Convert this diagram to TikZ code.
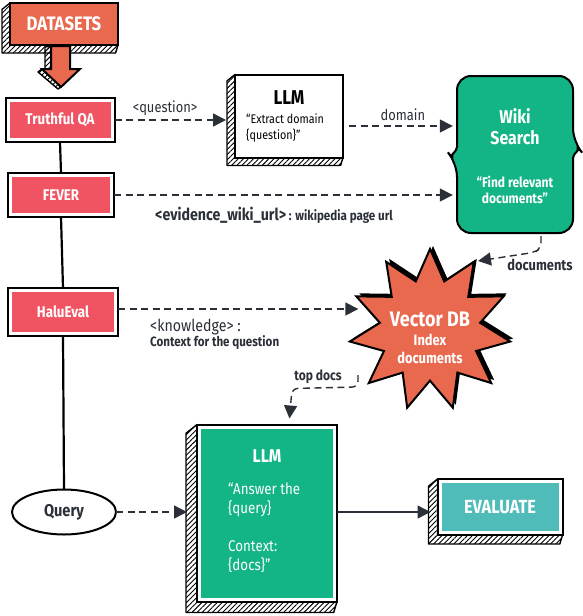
\documentclass[tikz,border=0pt]{standalone}
\usepackage{fontspec}
\setmainfont{Fira Sans}[FakeStretch=0.86]
\usetikzlibrary{arrows.meta,shapes.geometric,patterns.meta,shadows,calc,backgrounds}
\definecolor{dsorange}{HTML}{E9694F}
\definecolor{dsred}{HTML}{F05462}
\definecolor{llmgreen}{HTML}{13B485}
\definecolor{evalteal}{HTML}{50BCB9}
\definecolor{inkdark}{HTML}{2A2F38}

\begin{document}
\begin{tikzpicture}[x=1pt,y=-1pt,
    box/.style={draw=black, line width=2pt, fill=white, inner sep=0pt, outer sep=0pt},
    hatch/.style={draw=black, line width=1.4pt, line join=round, pattern={Lines[angle=45, distance=3.6pt, line width=0.9pt]}},
    inset/.style={path picture={\fill[#1] ($(path picture bounding box.south west)+(4pt,4pt)$) rectangle ($(path picture bounding box.north east)+(-4pt,-4pt)$);}},
    dataset/.style={box, inset=dsred, minimum height=44, text=white, font=\bfseries\fontsize{15.5}{18}\selectfont},
    link/.style={draw=inkdark, line width=1.4pt, dash pattern=on 7pt off 4.5pt, -{Triangle[length=13pt,width=13pt,fill=inkdark]}},
    solidlink/.style={link, solid},
    spine/.style={draw=black, line width=2.2pt},
    lbl/.style={text=inkdark, inner sep=1pt, font=\fontsize{15}{17}\selectfont},
    boldlbl/.style={lbl, font=\bfseries\fontsize{15}{17}\selectfont},
    whitetxt/.style={text=white, inner sep=0pt, align=center},
  ]
  \useasboundingbox (0,0) rectangle (582,616);

  % datasets header with arrow
  \node[box, fill=dsorange, minimum width=108, minimum height=42,
        text=white, font=\bfseries\fontsize{19.5}{22}\selectfont] (datasets) at (64,24) {DATASETS};
  \draw[box, fill=dsorange] (51,46) -- (70,46) -- (70,69) -- (80,69) -- (61,87) -- (42,69) -- (51,69) -- cycle;

  % dataset boxes
  \node[dataset, minimum width=109] (tqa) at (60,120) {Truthful QA};
  \node[dataset, minimum width=106] (fever) at (61,195) {FEVER};
  \node[dataset, minimum width=110, minimum height=48] (halu) at (63,312) {HaluEval};
  \node[box, ellipse, minimum width=104, minimum height=45,
        font=\bfseries\fontsize{17}{19}\selectfont, text=inkdark] (query) at (64,512) {Query};
  \draw[spine] (tqa.south) -- (fever.north);
  \draw[spine] (fever.south) -- (halu.north);
  \draw[spine] (halu.south) -- (query.north);

  % first llm
  \node[box, minimum width=108, minimum height=83] (llm1) at (289,116) {};
  \node[text=black, inner sep=0pt, font=\bfseries\fontsize{20}{22}\selectfont] (llm1title) at (289,98) {LLM};
  \node[anchor=north west, align=left, inner sep=0pt, text=black, font=\fontsize{12.5}{16}\selectfont] (llm1text) at (246,114)
        {“Extract domain\\\{question\}”};

  % wiki search
  \node[minimum width=116, minimum height=157] (wiki) at (515,154.5) {};
  \draw[box, fill=llmgreen, rounded corners=14pt] (515,76) -- (573,76) -- (573,142)
        [rounded corners=2pt] -- (579,149) -- (573,156)
        [rounded corners=14pt] -- (573,233) -- (457,233) -- (457,163)
        [rounded corners=2pt] -- (451,156) -- (457,149)
        [rounded corners=14pt] -- (457,76) -- cycle;
  \node[whitetxt, font=\bfseries\fontsize{18.5}{21}\selectfont] (wikititle) at (515,127) {Wiki\\Search};
  \node[whitetxt, font=\bfseries\fontsize{14}{16}\selectfont] (wikitext) at (515,190) {“Find relevant\\documents”};

  % vector db
  \node[star, star points=11, star point ratio=1.6, minimum size=162, inner sep=0pt,
        box, fill=dsorange, line width=2pt,
        general shadow={shadow xshift=3pt, shadow yshift=3pt, fill=black}] (vdb) at (430,330) {};
  \node[whitetxt, font=\bfseries\fontsize{21}{22}\selectfont] (vdbtitle) at (430,319) {Vector DB};
  \node[whitetxt, font=\bfseries\fontsize{15}{18}\selectfont] (vdbtext) at (430,349) {Index\\documents};

  % second llm and evaluate
  \node[box, inset=llmgreen, minimum width=140, minimum height=177] (llm2) at (267,513) {};
  \node[text=white, inner sep=0pt, font=\bfseries\fontsize{18.5}{20}\selectfont] (llm2title) at (267,456) {LLM};
  \node[anchor=north west, align=left, inner sep=0pt, text=white, font=\fontsize{15.5}{19}\selectfont] (llm2text) at (228,482.5)
        {“Answer the\\\{query\}\\[19pt]Context:\\\{docs\}”};
  \node[box, inset=evalteal, minimum width=125, minimum height=56,
        text=white, font=\bfseries\fontsize{19}{21}\selectfont] (eval) at (500,507) {EVALUATE};

  % hatched sides
  \begin{scope}[on background layer]
    \foreach \n/\d in {datasets/8, llm1/8, llm2/11, eval/9}{
      \draw[hatch] (\n.north west) -- ++(-\d,0.8*\d) -- ($(\n.south west)+(-\d,\d)$)
            -- ($(\n.south east)+(-0.3*\d,\d)$) -- (\n.south east) -- (\n.south west) -- cycle;
    }
    \draw[hatch] (51,46) -- (45,47) -- (45,70) -- (51,69) -- cycle;
    \draw[hatch] (42,69) -- (38,72) -- (58,89) -- (61,87) -- cycle;
  \end{scope}

  % connectors
  \draw[link, shorten >=9pt] (tqa.east) -- (tqa.east -| llm1.west)
        node[pos=0.42, above=3pt, lbl] {<question>};
  \coordinate (domstart) at ($(llm1.east)+(6,10)$);
  \draw[link, shorten >=4pt] (domstart) -- (domstart -| wiki.west)
        node[midway, above=4pt, lbl] {domain};
  \draw[link, shorten >=4pt] (fever.east) -- (fever.east -| wiki.west);
  \node[anchor=base west, inner sep=0pt] (feverlbl) at (155,220)
        {\color{inkdark}\bfseries\fontsize{16.5}{18}\selectfont <evidence\_wiki\_url>\fontsize{13.5}{15}\selectfont{} : wikipedia page url};
  \coordinate (docend) at (478,261);
  \draw[link, rounded corners=6pt] ($(wiki.south)+(26,3)$) -- ++(0,12) -- ++(-6,4) -- (docend);
  \node[boldlbl] (doclbl) at (540,265) {documents};
  \coordinate (halustart) at ($(halu.east)+(0,-3)$);
  \draw[link, shorten >=10pt] (halustart) -- (halustart -| vdb.west);
  \node[anchor=north west, align=left, inner sep=0pt, text=inkdark] (halulbl) at (150,319)
        {\fontsize{16.5}{18}\selectfont <knowledge> :\\[-1pt]\bfseries\fontsize{13.5}{15}\selectfont Context for the question};
  \coordinate (topstart) at (358,375);
  \draw[link, rounded corners=6pt, shorten >=6pt] (topstart) -- ++(0,12) -- ($(llm2.north)+(25,-36)$) -- ($(llm2.north)+(22,0)$);
  \node[boldlbl, font=\bfseries\fontsize{14}{16}\selectfont] (toplbl) at (318,377) {top docs};
  \draw[link, shorten >=10pt] (query.east) -- (query.east -| llm2.west);
  \draw[solidlink, shorten >=7pt] (query.east -| llm2.east) -- (query.east -| eval.west);
\end{tikzpicture}
\end{document}
